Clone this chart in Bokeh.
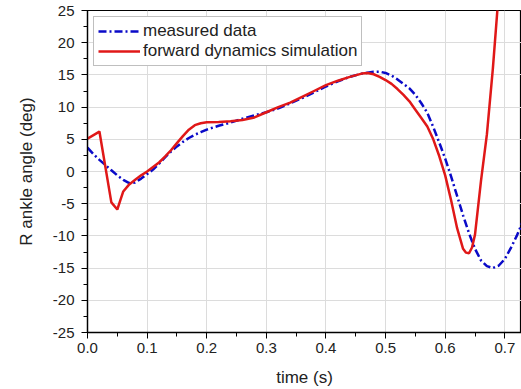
from bokeh.plotting import figure
from bokeh.models import (Range1d, SingleIntervalTicker, Legend, LegendItem,
                          NumeralTickFormatter)
from bokeh.embed import file_html
from bokeh.resources import INLINE

# measured data
t_meas = [0.00, 0.01, 0.02, 0.03, 0.04, 0.05, 0.06, 0.07, 0.08, 0.09, 0.10, 0.11, 0.12,
          0.13, 0.14, 0.15, 0.16, 0.17, 0.18, 0.19, 0.20, 0.22, 0.24, 0.26, 0.28, 0.30,
          0.32, 0.34, 0.36, 0.38, 0.40, 0.42, 0.44, 0.46, 0.48, 0.49, 0.50, 0.51, 0.52,
          0.53, 0.54, 0.55, 0.56, 0.57, 0.58, 0.59, 0.60, 0.61, 0.62, 0.63, 0.64, 0.65,
          0.66, 0.67, 0.68, 0.69, 0.70, 0.71, 0.72, 0.73]
y_meas = [3.7, 2.7, 1.8, 1.0, 0.2, -0.6, -1.3, -1.8, -1.7, -1.1, -0.4, 0.3, 1.2,
          2.2, 3.1, 3.9, 4.6, 5.2, 5.7, 6.1, 6.5, 7.1, 7.6, 8.2, 8.7, 9.2,
          9.8, 10.6, 11.4, 12.3, 13.2, 14.0, 14.7, 15.2, 15.5, 15.5, 15.3, 14.9, 14.3,
          13.6, 12.9, 11.9, 10.6, 9.1, 6.9, 4.5, 2.0, -0.8, -3.8, -6.8, -9.6, -12.0,
          -13.8, -14.7, -15.0, -14.6, -13.6, -11.9, -10.0, -7.8]

# forward dynamics simulation
t_sim = [0.00, 0.02, 0.04, 0.05, 0.055, 0.06, 0.07, 0.08, 0.09, 0.10, 0.11, 0.12, 0.13,
         0.14, 0.15, 0.16, 0.17, 0.18, 0.19, 0.20, 0.22, 0.24, 0.26, 0.28, 0.30, 0.32,
         0.34, 0.36, 0.38, 0.40, 0.42, 0.44, 0.46, 0.47, 0.48, 0.49, 0.50, 0.51, 0.52,
         0.53, 0.54, 0.55, 0.56, 0.57, 0.58, 0.59, 0.60, 0.61, 0.62, 0.63, 0.635, 0.64,
         0.645, 0.65, 0.66, 0.67, 0.68, 0.69]
y_sim = [5.1, 6.2, -4.8, -5.9, -4.5, -3.1, -2.0, -1.3, -0.6, 0.0, 0.7, 1.4, 2.3,
         3.3, 4.4, 5.5, 6.5, 7.2, 7.5, 7.65, 7.7, 7.8, 8.0, 8.4, 9.2, 10.0,
         10.7, 11.6, 12.5, 13.4, 14.1, 14.7, 15.2, 15.3, 15.1, 14.7, 14.2, 13.6, 12.8,
         11.9, 10.9, 9.6, 8.3, 7.0, 5.0, 2.4, -0.6, -4.5, -8.8, -12.0, -12.6, -12.7,
         -11.8, -9.8, -1.5, 5.8, 16.0, 28.0]

x_label = "time (s)"
y_label = "R ankle angle (deg)"
series_names = ["measured data", "forward dynamics simulation"]

FONT = "Liberation Sans"

p = figure(width=521, height=389, output_backend="svg", toolbar_location=None,
           x_range=Range1d(0.0, 0.728), y_range=Range1d(-25, 25),
           min_border_left=87, min_border_top=10, min_border_right=0, min_border_bottom=56)
p.outline_line_color = "black"
p.outline_line_width = 1.2

p.xaxis.ticker = SingleIntervalTicker(interval=0.1, num_minor_ticks=2)
p.yaxis.ticker = SingleIntervalTicker(interval=5, num_minor_ticks=2)
p.xaxis.formatter = NumeralTickFormatter(format="0.0")
p.yaxis.formatter = NumeralTickFormatter(format="0")

for ax in (p.xaxis[0], p.yaxis[0]):
    ax.major_label_text_font = FONT
    ax.major_label_text_font_size = "15px"
    ax.major_label_text_color = "#222222"
    ax.axis_label_text_font = FONT
    ax.axis_label_text_font_size = "17px"
    ax.axis_label_text_font_style = "normal"
    ax.axis_label_text_color = "#222222"
    ax.axis_line_color = "black"
    ax.axis_line_width = 1.3
    ax.major_tick_line_color = "black"
    ax.minor_tick_line_color = "black"
    ax.major_tick_out = 6
    ax.major_tick_in = 0
    ax.minor_tick_out = 4
    ax.minor_tick_in = 0

p.xaxis.axis_label = x_label
p.yaxis.axis_label = y_label
p.xaxis.major_label_standoff = 4
p.xaxis.axis_label_standoff = 12
p.yaxis.major_label_standoff = 7
p.yaxis.axis_label_standoff = 14

p.xgrid.grid_line_color = "#dcdcdc"
p.ygrid.grid_line_color = "#dcdcdc"
p.xgrid.ticker = p.xaxis[0].ticker
p.ygrid.ticker = p.yaxis[0].ticker

r1 = p.line(t_meas, y_meas, line_color="#0a0ac8", line_width=2.5, line_dash="8 3 2 3")
r2 = p.line(t_sim, y_sim, line_color="#e01818", line_width=2.5)

legend = Legend(items=[LegendItem(label=series_names[0], renderers=[r1]),
                       LegendItem(label=series_names[1], renderers=[r2])],
                location="top_left", margin=6, padding=4, spacing=0,
                glyph_width=42, glyph_height=20, label_height=20, label_standoff=3,
                label_text_font=FONT, label_text_font_size="17px",
                label_text_color="#222222",
                border_line_color="#808080", border_line_width=1,
                background_fill_color="white", background_fill_alpha=1.0)
p.add_layout(legend)

open("out.html", "w").write(file_html(p, INLINE))
